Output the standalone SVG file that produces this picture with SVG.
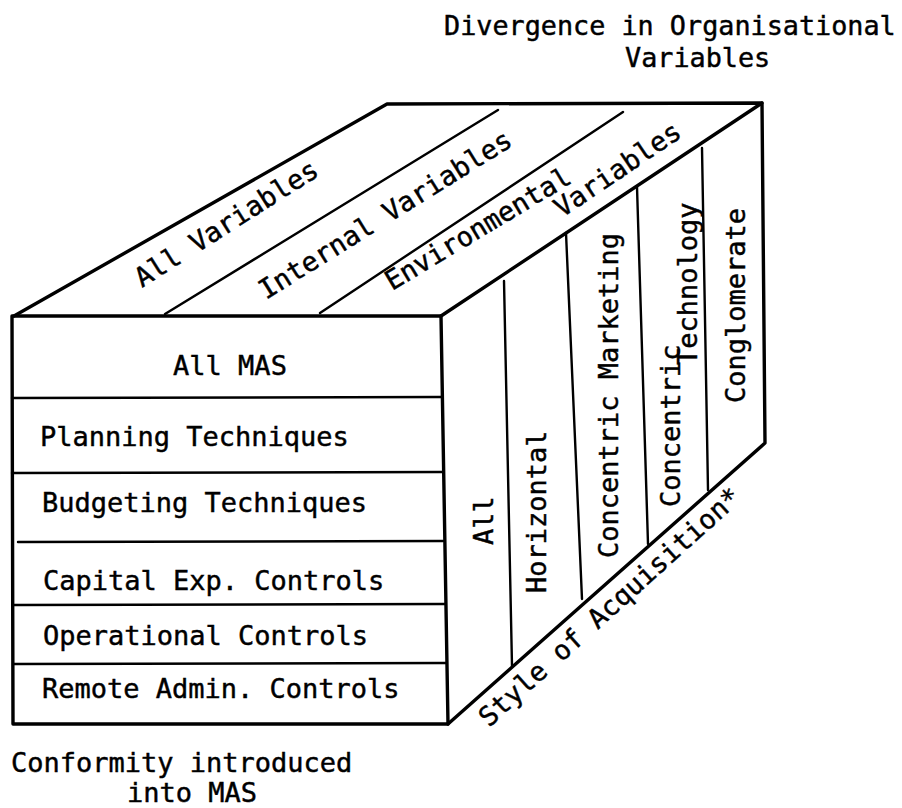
<svg xmlns="http://www.w3.org/2000/svg" width="902" height="808" viewBox="0 0 902 808">
<style>
text{font-family:"DejaVu Sans Mono","Liberation Mono",monospace;font-size:27px;fill:#000;stroke:#000;stroke-width:0.45}
.edge{stroke:#000;stroke-width:3.4;fill:none;stroke-linecap:round;stroke-linejoin:round}
.div{stroke:#000;stroke-width:2.4;fill:none;stroke-linecap:round}
</style>
<rect width="902" height="808" fill="#fff"/>
<g id="title">
<text x="444" y="35" style="font-size:26.8px">Divergence in Organisational</text>
<text x="625" y="67" style="font-size:26.8px">Variables</text>
</g>
<g id="cube-edges">
<polygon class="edge" points="12,316 441,316 448,724 13,724"/>
<polyline class="edge" points="14,316 387,104 762,103 441,316"/>
<polyline class="edge" points="762,103 765,443 448,724"/>
</g>
<g id="top-face">
<line class="div" x1="165" y1="314" x2="498" y2="110"/>
<line class="div" x1="320" y1="313" x2="623" y2="112"/>
<text transform="translate(142,288) rotate(-32.4)">All Variables</text>
<text transform="translate(266,300) rotate(-32)">Internal Variables</text>
<text transform="translate(392,291) rotate(-31)">Environmental</text>
<text transform="translate(562,218) rotate(-34)">Variables</text>
</g>
<g id="front-face">
<line class="div" x1="12" y1="398" x2="441" y2="397"/>
<line class="div" x1="12" y1="473" x2="442" y2="472"/>
<line class="div" x1="18" y1="542" x2="443" y2="541"/>
<line class="div" x1="14" y1="605" x2="445" y2="604"/>
<line class="div" x1="14" y1="664" x2="446" y2="663"/>
<text x="230" y="375" text-anchor="middle">All MAS</text>
<text x="40" y="446">Planning Techniques</text>
<text x="42" y="512">Budgeting Techniques</text>
<text x="43" y="590">Capital Exp. Controls</text>
<text x="43" y="645">Operational Controls</text>
<text x="42" y="698">Remote Admin. Controls</text>
</g>
<g id="right-face">
<line class="div" x1="504" y1="281" x2="512" y2="666"/>
<line class="div" x1="566" y1="233" x2="582" y2="599"/>
<line class="div" x1="637" y1="187" x2="648" y2="544"/>
<line class="div" x1="702" y1="148" x2="708" y2="490"/>
<text transform="translate(493,545) rotate(-90)">All</text>
<text transform="translate(546,593) rotate(-90)">Horizontal</text>
<text transform="translate(618,558) rotate(-90)">Concentric Marketing</text>
<text transform="translate(680,507) rotate(-90)">Concentric</text>
<text transform="translate(697,365) rotate(-90)">Technology</text>
<text transform="translate(745,403) rotate(-90)">Conglomerate</text>
<text transform="translate(489,728) rotate(-42)">Style of Acquisition*</text>
</g>
<g id="bottom-label">
<text x="11" y="772">Conformity introduced</text>
<text x="127" y="802">into MAS</text>
</g>
</svg>
